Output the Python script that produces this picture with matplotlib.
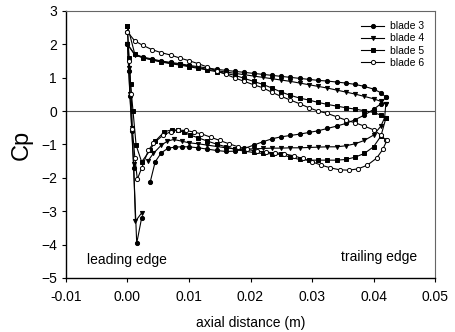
import numpy as np
import matplotlib
matplotlib.use("Agg")
import matplotlib.pyplot as plt
from matplotlib.ticker import FormatStrFormatter

plt.rcParams['font.family'] = ['Liberation Sans', 'DejaVu Sans']

nan = np.nan

# pressure side (upper), common tap positions, LE -> TE
ps_x = [0.0, 0.0012, 0.0025, 0.004, 0.0055, 0.007, 0.0085, 0.010, 0.0115, 0.013,
        0.0145, 0.016, 0.0175, 0.019, 0.0205, 0.022, 0.0235, 0.025, 0.0265, 0.028,
        0.0295, 0.031, 0.0325, 0.034, 0.0355, 0.037, 0.0385, 0.040, 0.0412, 0.042]
ps_b3 = [2.0, 1.7, 1.62, 1.56, 1.5, 1.46, 1.42, 1.37, 1.33, 1.29, 1.25, 1.22, 1.19, 1.16, 1.13,
         1.10, 1.07, 1.04, 1.01, 0.98, 0.95, 0.92, 0.9, 0.87, 0.84, 0.8, 0.74, 0.66, 0.55, 0.42]
ps_b4 = [2.0, 1.68, 1.6, 1.54, 1.48, 1.44, 1.40, 1.35, 1.3, 1.25, 1.21, 1.17, 1.13, 1.09, 1.05,
         1.01, 0.97, 0.93, 0.89, 0.84, 0.79, 0.74, 0.69, 0.63, 0.57, 0.51, 0.44, 0.37, 0.29, 0.2]
ps_b5 = [2.55, 1.7, 1.6, 1.53, 1.47, 1.42, 1.38, 1.33, 1.28, 1.23, 1.18, 1.13, 1.07, 0.98, 0.89,
         0.8, 0.69, 0.57, 0.47, 0.39, 0.33, 0.26, 0.2, 0.15, 0.1, 0.06, 0.01, -0.04, -0.12, -0.22]
ps_b6 = [2.37, 2.1, 1.97, 1.84, 1.75, 1.68, 1.59, 1.51, 1.42, 1.32, 1.2, 1.1, 0.99, 0.89, 0.79,
         0.7, 0.56, 0.44, 0.33, 0.22, 0.1, 0.0, -0.07, -0.17, -0.27, -0.35, -0.45, -0.56, -0.72, -0.87]

# suction side (lower), LE -> TE
ss_x_b3 = [0.0, 0.0002, 0.0004, 0.0007, 0.001, 0.0015, 0.0023, nan, 0.0037, 0.0045, 0.0055,
           0.0066, 0.0077, 0.0088, 0.010, 0.0115, 0.013, 0.0145, 0.016, 0.0175, 0.019, 0.0205,
           0.022, 0.0235, 0.025, 0.0265, 0.028, 0.0295, 0.031, 0.0325, 0.034, 0.0355, 0.037,
           0.0385, 0.040, 0.0412, 0.042]
ss_b3 = [2.0, 1.2, 0.45, -0.6, -1.7, -3.96, -3.2, nan, -2.12, -1.52, -1.25, -1.11, -1.08, -1.07,
         -1.07, -1.1, -1.14, -1.18, -1.21, -1.2, -1.12, -1.02, -0.92, -0.83, -0.77, -0.73, -0.69,
         -0.64, -0.59, -0.52, -0.45, -0.37, -0.26, -0.12, 0.05, 0.22, 0.42]

ss_x_b4 = [0.0, 0.0002, 0.0004, 0.0007, 0.0010, 0.0013, 0.0023, nan, 0.0033, 0.0042, 0.0055,
           0.0065, 0.0075, 0.0088, 0.010, 0.0115, 0.013, 0.0145, 0.016, 0.0175, 0.019, 0.0205,
           0.022, 0.0235, 0.025, 0.0265, 0.028, 0.0295, 0.031, 0.0325, 0.034, 0.0355, 0.037,
           0.0385, 0.040, 0.0412, 0.0418, 0.042]
ss_b4 = [2.0, 1.3, 0.5, -0.5, -1.6, -3.3, -3.05, nan, -1.5, -1.27, -1.02, -0.9, -0.85, -0.9,
         -0.95, -0.98, -1.02, -1.06, -1.1, -1.13, -1.14, -1.13, -1.12, -1.11, -1.11, -1.1, -1.1,
         -1.09, -1.08, -1.07, -1.07, -1.04, -0.98, -0.88, -0.72, -0.45, -0.2, 0.2]

ss_x_b5 = [0.0, 0.0002, 0.0005, 0.0009, 0.0014, 0.0023, 0.0037, 0.0045, 0.006, 0.0072, 0.0082,
           0.0092, 0.0102, 0.0115, 0.013, 0.0145, 0.016, 0.0175, 0.019, 0.0205, 0.022, 0.0235,
           0.025, 0.0265, 0.028, 0.0295, 0.031, 0.0325, 0.034, 0.0355, 0.037, 0.0385, 0.040,
           0.0412, 0.042]
ss_b5 = [2.55, 1.6, 0.8, 0.0, -1.02, -1.52, -1.17, -0.9, -0.62, -0.56, -0.57, -0.64, -0.72,
         -0.8, -0.9, -0.99, -1.07, -1.15, -1.2, -1.24, -1.27, -1.28, -1.3, -1.38, -1.45, -1.47,
         -1.47, -1.47, -1.47, -1.45, -1.38, -1.27, -1.07, -0.75, -0.22]

ss_x_b6 = [0.0, 0.0003, 0.0006, 0.0008, 0.0012, 0.0016, 0.0023, 0.0034, 0.0042, 0.0058, 0.007,
           0.0082, 0.0095, 0.0108, 0.012, 0.0135, 0.015, 0.0165, 0.018, 0.0195, 0.021, 0.0225,
           0.024, 0.0255, 0.027, 0.0285, 0.030, 0.0315, 0.033, 0.0345, 0.036, 0.0375, 0.039,
           0.0405, 0.0415, 0.0422]
ss_b6 = [2.37, 1.5, 0.5, -0.55, -1.4, -2.04, -1.71, -1.17, -0.97, -0.72, -0.62, -0.57, -0.58,
         -0.63, -0.68, -0.78, -0.88, -0.98, -1.07, -1.15, -1.2, -1.23, -1.25, -1.28, -1.34, -1.42,
         -1.52, -1.62, -1.7, -1.76, -1.77, -1.73, -1.62, -1.41, -1.15, -0.87]

labels = ["blade 3", "blade 4", "blade 5", "blade 6"]
markers = ["o", "v", "s", "o"]
faces = ["black", "black", "black", "white"]
ps_vals = [ps_b3, ps_b4, ps_b5, ps_b6]
ss_xs = [ss_x_b3, ss_x_b4, ss_x_b5, ss_x_b6]
ss_vals = [ss_b3, ss_b4, ss_b5, ss_b6]

fig = plt.figure(figsize=(4.56, 3.32), dpi=100)
ax = fig.add_axes([0.1447, 0.1627, 0.8093, 0.8043])

ax.axhline(0, color="#555555", lw=0.8, zorder=1)

for i in range(len(labels)):
    x = np.concatenate([np.array(ps_x)[::-1], np.array(ss_xs[i])])
    y = np.concatenate([np.array(ps_vals[i])[::-1], np.array(ss_vals[i])])
    ax.plot(x, y, color="black", lw=0.8, marker=markers[i], ms=3.0,
            mfc=faces[i], mec="black", mew=0.7, label=labels[i], zorder=3)

ax.set_xlim(-0.01, 0.05)
ax.set_ylim(-5, 3)
ax.set_xticks(np.arange(-0.01, 0.051, 0.01))
ax.set_yticks(np.arange(-5, 4, 1))
ax.xaxis.set_major_formatter(FormatStrFormatter("%.2f"))
ax.tick_params(labelsize=10, length=3, width=0.8, direction="out")
ax.tick_params(axis="x", pad=6)
for s in ["top", "right"]:
    ax.spines[s].set_color("#666666")
    ax.spines[s].set_linewidth(0.8)
for s in ["left", "bottom"]:
    ax.spines[s].set_linewidth(1.0)

ax.set_xlabel("axial distance (m)", fontsize=10, labelpad=8)
ax.set_ylabel("Cp", fontsize=17, labelpad=6)

ax.text(-0.0066, -4.45, "leading edge", fontsize=10, va="center", ha="left")
ax.text(0.0347, -4.37, "trailing edge", fontsize=10, va="center", ha="left")

leg = ax.legend(loc="upper right", frameon=False, fontsize=7.5, handlelength=2.2,
                labelspacing=0.2, borderaxespad=0.6, handletextpad=0.6)

fig.savefig("out.png", dpi=100)
